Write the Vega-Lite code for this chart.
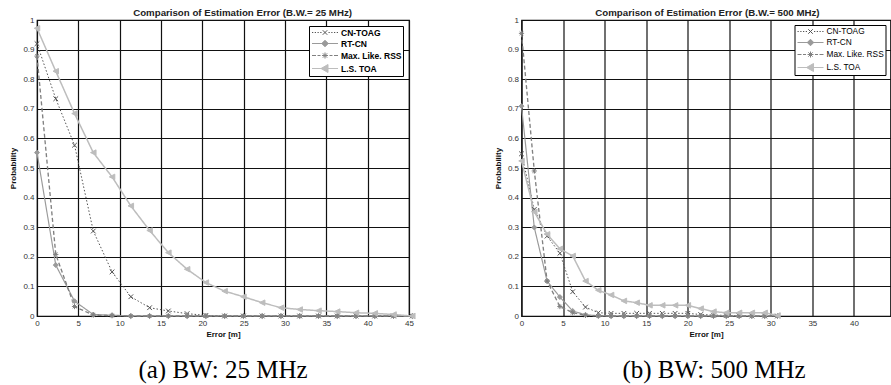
{
  "$schema": "https://vega.github.io/schema/vega-lite/v6.json",
  "background": "white",
  "padding": {"left": 9, "top": 7, "right": 0, "bottom": 0},
  "spacing": 67.5,
  "datasets": {
    "a": [
      {"series": "CN-TOAG", "x": 0, "y": 0.92}, {"series": "CN-TOAG", "x": 2.27, "y": 0.734}, {"series": "CN-TOAG", "x": 4.54, "y": 0.577}, {"series": "CN-TOAG", "x": 6.81, "y": 0.287}, {"series": "CN-TOAG", "x": 9.08, "y": 0.149}, {"series": "CN-TOAG", "x": 11.35, "y": 0.065}, {"series": "CN-TOAG", "x": 13.62, "y": 0.028}, {"series": "CN-TOAG", "x": 15.89, "y": 0.017}, {"series": "CN-TOAG", "x": 18.16, "y": 0.008}, {"series": "CN-TOAG", "x": 20.43, "y": 0.002}, {"series": "CN-TOAG", "x": 22.7, "y": 0}, {"series": "CN-TOAG", "x": 24.97, "y": 0}, {"series": "CN-TOAG", "x": 27.24, "y": 0}, {"series": "CN-TOAG", "x": 29.51, "y": 0}, {"series": "CN-TOAG", "x": 31.78, "y": 0}, {"series": "CN-TOAG", "x": 34.05, "y": 0}, {"series": "CN-TOAG", "x": 36.32, "y": 0}, {"series": "CN-TOAG", "x": 38.59, "y": 0}, {"series": "CN-TOAG", "x": 40.86, "y": 0}, {"series": "CN-TOAG", "x": 43.13, "y": 0}, {"series": "CN-TOAG", "x": 45.4, "y": 0},
      {"series": "RT-CN", "x": 0, "y": 0.552}, {"series": "RT-CN", "x": 2.27, "y": 0.172}, {"series": "RT-CN", "x": 4.54, "y": 0.05}, {"series": "RT-CN", "x": 6.81, "y": 0.005}, {"series": "RT-CN", "x": 9.08, "y": 0.003}, {"series": "RT-CN", "x": 11.35, "y": 0}, {"series": "RT-CN", "x": 13.62, "y": 0}, {"series": "RT-CN", "x": 15.89, "y": 0}, {"series": "RT-CN", "x": 18.16, "y": 0}, {"series": "RT-CN", "x": 20.43, "y": 0}, {"series": "RT-CN", "x": 22.7, "y": 0}, {"series": "RT-CN", "x": 24.97, "y": 0}, {"series": "RT-CN", "x": 27.24, "y": 0}, {"series": "RT-CN", "x": 29.51, "y": 0}, {"series": "RT-CN", "x": 31.78, "y": 0}, {"series": "RT-CN", "x": 34.05, "y": 0}, {"series": "RT-CN", "x": 36.32, "y": 0}, {"series": "RT-CN", "x": 38.59, "y": 0}, {"series": "RT-CN", "x": 40.86, "y": 0}, {"series": "RT-CN", "x": 43.13, "y": 0}, {"series": "RT-CN", "x": 45.4, "y": 0},
      {"series": "Max. Like. RSS", "x": 0, "y": 0.878}, {"series": "Max. Like. RSS", "x": 2.27, "y": 0.208}, {"series": "Max. Like. RSS", "x": 4.54, "y": 0.032}, {"series": "Max. Like. RSS", "x": 6.81, "y": 0.003}, {"series": "Max. Like. RSS", "x": 9.08, "y": 0.001}, {"series": "Max. Like. RSS", "x": 11.35, "y": 0}, {"series": "Max. Like. RSS", "x": 13.62, "y": 0}, {"series": "Max. Like. RSS", "x": 15.89, "y": 0}, {"series": "Max. Like. RSS", "x": 18.16, "y": 0}, {"series": "Max. Like. RSS", "x": 20.43, "y": 0}, {"series": "Max. Like. RSS", "x": 22.7, "y": 0}, {"series": "Max. Like. RSS", "x": 24.97, "y": 0}, {"series": "Max. Like. RSS", "x": 27.24, "y": 0}, {"series": "Max. Like. RSS", "x": 29.51, "y": 0}, {"series": "Max. Like. RSS", "x": 31.78, "y": 0}, {"series": "Max. Like. RSS", "x": 34.05, "y": 0}, {"series": "Max. Like. RSS", "x": 36.32, "y": 0}, {"series": "Max. Like. RSS", "x": 38.59, "y": 0}, {"series": "Max. Like. RSS", "x": 40.86, "y": 0}, {"series": "Max. Like. RSS", "x": 43.13, "y": 0}, {"series": "Max. Like. RSS", "x": 45.4, "y": 0},
      {"series": "L.S. TOA", "x": 0, "y": 0.972}, {"series": "L.S. TOA", "x": 2.27, "y": 0.827}, {"series": "L.S. TOA", "x": 4.54, "y": 0.684}, {"series": "L.S. TOA", "x": 6.81, "y": 0.552}, {"series": "L.S. TOA", "x": 9.08, "y": 0.47}, {"series": "L.S. TOA", "x": 11.35, "y": 0.372}, {"series": "L.S. TOA", "x": 13.62, "y": 0.289}, {"series": "L.S. TOA", "x": 15.89, "y": 0.214}, {"series": "L.S. TOA", "x": 18.16, "y": 0.158}, {"series": "L.S. TOA", "x": 20.43, "y": 0.113}, {"series": "L.S. TOA", "x": 22.7, "y": 0.084}, {"series": "L.S. TOA", "x": 24.97, "y": 0.065}, {"series": "L.S. TOA", "x": 27.24, "y": 0.045}, {"series": "L.S. TOA", "x": 29.51, "y": 0.028}, {"series": "L.S. TOA", "x": 31.78, "y": 0.022}, {"series": "L.S. TOA", "x": 34.05, "y": 0.018}, {"series": "L.S. TOA", "x": 36.32, "y": 0.015}, {"series": "L.S. TOA", "x": 38.59, "y": 0.011}, {"series": "L.S. TOA", "x": 40.86, "y": 0.009}, {"series": "L.S. TOA", "x": 43.13, "y": 0.005}, {"series": "L.S. TOA", "x": 45.4, "y": 0}
    ],
    "b": [
      {"series": "CN-TOAG", "x": 0, "y": 0.548}, {"series": "CN-TOAG", "x": 1.54, "y": 0.36}, {"series": "CN-TOAG", "x": 3.08, "y": 0.27}, {"series": "CN-TOAG", "x": 4.62, "y": 0.212}, {"series": "CN-TOAG", "x": 6.16, "y": 0.082}, {"series": "CN-TOAG", "x": 7.7, "y": 0.03}, {"series": "CN-TOAG", "x": 9.24, "y": 0.011}, {"series": "CN-TOAG", "x": 10.78, "y": 0.009}, {"series": "CN-TOAG", "x": 12.32, "y": 0.009}, {"series": "CN-TOAG", "x": 13.86, "y": 0.009}, {"series": "CN-TOAG", "x": 15.4, "y": 0.009}, {"series": "CN-TOAG", "x": 16.94, "y": 0.009}, {"series": "CN-TOAG", "x": 18.48, "y": 0.009}, {"series": "CN-TOAG", "x": 20.02, "y": 0.009}, {"series": "CN-TOAG", "x": 21.56, "y": 0.005}, {"series": "CN-TOAG", "x": 23.1, "y": 0.003}, {"series": "CN-TOAG", "x": 24.64, "y": 0.002}, {"series": "CN-TOAG", "x": 26.18, "y": 0.001}, {"series": "CN-TOAG", "x": 27.72, "y": 0}, {"series": "CN-TOAG", "x": 29.26, "y": 0}, {"series": "CN-TOAG", "x": 30.8, "y": 0},
      {"series": "RT-CN", "x": 0, "y": 0.709}, {"series": "RT-CN", "x": 1.54, "y": 0.299}, {"series": "RT-CN", "x": 3.08, "y": 0.118}, {"series": "RT-CN", "x": 4.62, "y": 0.064}, {"series": "RT-CN", "x": 6.16, "y": 0.017}, {"series": "RT-CN", "x": 7.7, "y": 0.004}, {"series": "RT-CN", "x": 9.24, "y": 0.001}, {"series": "RT-CN", "x": 10.78, "y": 0}, {"series": "RT-CN", "x": 12.32, "y": 0}, {"series": "RT-CN", "x": 13.86, "y": 0}, {"series": "RT-CN", "x": 15.4, "y": 0}, {"series": "RT-CN", "x": 16.94, "y": 0}, {"series": "RT-CN", "x": 18.48, "y": 0}, {"series": "RT-CN", "x": 20.02, "y": 0}, {"series": "RT-CN", "x": 21.56, "y": 0}, {"series": "RT-CN", "x": 23.1, "y": 0}, {"series": "RT-CN", "x": 24.64, "y": 0}, {"series": "RT-CN", "x": 26.18, "y": 0}, {"series": "RT-CN", "x": 27.72, "y": 0}, {"series": "RT-CN", "x": 29.26, "y": 0}, {"series": "RT-CN", "x": 30.8, "y": 0},
      {"series": "Max. Like. RSS", "x": 0, "y": 0.955}, {"series": "Max. Like. RSS", "x": 1.54, "y": 0.49}, {"series": "Max. Like. RSS", "x": 3.08, "y": 0.118}, {"series": "Max. Like. RSS", "x": 4.62, "y": 0.032}, {"series": "Max. Like. RSS", "x": 6.16, "y": 0.011}, {"series": "Max. Like. RSS", "x": 7.7, "y": 0.002}, {"series": "Max. Like. RSS", "x": 9.24, "y": 0}, {"series": "Max. Like. RSS", "x": 10.78, "y": 0}, {"series": "Max. Like. RSS", "x": 12.32, "y": 0}, {"series": "Max. Like. RSS", "x": 13.86, "y": 0}, {"series": "Max. Like. RSS", "x": 15.4, "y": 0}, {"series": "Max. Like. RSS", "x": 16.94, "y": 0}, {"series": "Max. Like. RSS", "x": 18.48, "y": 0}, {"series": "Max. Like. RSS", "x": 20.02, "y": 0}, {"series": "Max. Like. RSS", "x": 21.56, "y": 0}, {"series": "Max. Like. RSS", "x": 23.1, "y": 0}, {"series": "Max. Like. RSS", "x": 24.64, "y": 0}, {"series": "Max. Like. RSS", "x": 26.18, "y": 0}, {"series": "Max. Like. RSS", "x": 27.72, "y": 0}, {"series": "Max. Like. RSS", "x": 29.26, "y": 0}, {"series": "Max. Like. RSS", "x": 30.8, "y": 0},
      {"series": "L.S. TOA", "x": 0, "y": 0.524}, {"series": "L.S. TOA", "x": 1.54, "y": 0.352}, {"series": "L.S. TOA", "x": 3.08, "y": 0.276}, {"series": "L.S. TOA", "x": 4.62, "y": 0.227}, {"series": "L.S. TOA", "x": 6.16, "y": 0.203}, {"series": "L.S. TOA", "x": 7.7, "y": 0.118}, {"series": "L.S. TOA", "x": 9.24, "y": 0.087}, {"series": "L.S. TOA", "x": 10.78, "y": 0.071}, {"series": "L.S. TOA", "x": 12.32, "y": 0.051}, {"series": "L.S. TOA", "x": 13.86, "y": 0.045}, {"series": "L.S. TOA", "x": 15.4, "y": 0.036}, {"series": "L.S. TOA", "x": 16.94, "y": 0.036}, {"series": "L.S. TOA", "x": 18.48, "y": 0.036}, {"series": "L.S. TOA", "x": 20.02, "y": 0.036}, {"series": "L.S. TOA", "x": 21.56, "y": 0.025}, {"series": "L.S. TOA", "x": 23.1, "y": 0.015}, {"series": "L.S. TOA", "x": 24.64, "y": 0.011}, {"series": "L.S. TOA", "x": 26.18, "y": 0.011}, {"series": "L.S. TOA", "x": 27.72, "y": 0.011}, {"series": "L.S. TOA", "x": 29.26, "y": 0.011}, {"series": "L.S. TOA", "x": 30.8, "y": 0.002}
    ]
  },
  "hconcat": [
    {
      "title": {"text": "Comparison of Estimation Error  (B.W.= 25 MHz)", "orient": "top", "anchor": "middle", "frame": "bounds", "dx": 25, "offset": -2, "font": "Liberation Sans", "fontSize": 9.7, "fontWeight": "bold", "color": "#222222"},
      "vconcat": [
        {
          "width": 372,
          "height": 296,
          "data": {"name": "a"},
          "title": {"text": "(a) BW: 25 MHz", "orient": "bottom", "anchor": "middle", "frame": "group", "offset": 20, "font": "Liberation Serif", "fontSize": 25, "fontWeight": "normal", "color": "black"},
          "encoding": {
            "x": {"field": "x", "type": "quantitative", "scale": {"domain": [0, 45], "nice": false, "zero": false}, "axis": {"values": [0, 5, 10, 15, 20, 25, 30, 35, 40, 45], "title": "Error [m]"}},
            "y": {"field": "y", "type": "quantitative", "scale": {"domain": [0, 1], "nice": false}, "axis": {"values": [0, 0.1, 0.2, 0.3, 0.4, 0.5, 0.6, 0.7, 0.8, 0.9, 1], "format": "~g", "title": "Probability"}}
          },
          "layer": [
            {
              "mark": {"type": "line", "clip": false},
              "encoding": {
                "stroke": {"field": "series", "type": "nominal", "scale": {"domain": ["CN-TOAG", "RT-CN", "Max. Like. RSS", "L.S. TOA"], "range": ["#555555", "#9a9a9a", "#808080", "#bdbdbd"]}, "legend": null},
                "strokeDash": {"field": "series", "type": "nominal", "scale": {"domain": ["CN-TOAG", "RT-CN", "Max. Like. RSS", "L.S. TOA"], "range": [[1.5, 2], [1, 0], [4, 2.5], [1, 0]]}, "legend": null},
                "strokeWidth": {"field": "series", "type": "nominal", "scale": {"domain": ["CN-TOAG", "RT-CN", "Max. Like. RSS", "L.S. TOA"], "range": [1, 1.5, 1, 2]}, "legend": null}
              }
            },
            {
              "mark": {"type": "point", "opacity": 1, "strokeWidth": 1, "clip": false},
              "encoding": {
                "shape": {"field": "series", "type": "nominal", "scale": {"domain": ["CN-TOAG", "RT-CN", "Max. Like. RSS", "L.S. TOA"], "range": ["M-1,-1L1,1M-1,1L1,-1", "M0,-1L1,0L0,1L-1,0Z", "M-1,0H1M0,-1V1M-0.7,-0.7L0.7,0.7M-0.7,0.7L0.7,-0.7", "M-1,0L1,-1L1,1Z"]}, "legend": null},
                "size": {"field": "series", "type": "nominal", "scale": {"domain": ["CN-TOAG", "RT-CN", "Max. Like. RSS", "L.S. TOA"], "range": [22, 30, 22, 40]}, "legend": null},
                "stroke": {"field": "series", "type": "nominal", "scale": {"domain": ["CN-TOAG", "RT-CN", "Max. Like. RSS", "L.S. TOA"], "range": ["#555555", "#9a9a9a", "#808080", "#bdbdbd"]}, "legend": null},
                "fill": {"field": "series", "type": "nominal", "scale": {"domain": ["CN-TOAG", "RT-CN", "Max. Like. RSS", "L.S. TOA"], "range": ["transparent", "#9a9a9a", "transparent", "#bdbdbd"]}, "legend": null}
              }
            },
            {
              "mark": {"type": "point", "opacity": 0, "size": 100, "strokeWidth": 1},
              "encoding": {
                "shape": {"field": "series", "type": "nominal", "scale": {"domain": ["CN-TOAG", "RT-CN", "Max. Like. RSS", "L.S. TOA"], "range": ["M-2.6,0h0.25M-2.05,0h0.25M-1.5,0h0.25M-0.95,0h0.25M0.7,0h0.25M1.25,0h0.25M1.8,0h0.25M2.35,0h0.25M-0.45,-0.45L0.45,0.45M-0.45,0.45L0.45,-0.45", "M-2.6,0H2.6M0,-0.65L0.65,0L0,0.65L-0.65,0Z", "M-2.6,0h0.8M-1.5,0h0.6M0.9,0h0.6M1.8,0h0.8M-0.6,0H0.6M0,-0.6V0.6M-0.43,-0.43L0.43,0.43M-0.43,0.43L0.43,-0.43", "M-2.6,0H2.6M-0.8,0L0.6,-0.8L0.6,0.8Z"]}, "legend": {"title": null, "labelFontWeight": "bold", "labelFontSize": 8.5, "offset": 6}},
                "stroke": {"field": "series", "type": "nominal", "scale": {"domain": ["CN-TOAG", "RT-CN", "Max. Like. RSS", "L.S. TOA"], "range": ["#555555", "#9a9a9a", "#808080", "#bdbdbd"]}, "legend": {"title": null, "labelFontWeight": "bold", "labelFontSize": 8.5, "offset": 6}},
                "fill": {"field": "series", "type": "nominal", "scale": {"domain": ["CN-TOAG", "RT-CN", "Max. Like. RSS", "L.S. TOA"], "range": ["transparent", "#9a9a9a", "transparent", "#bdbdbd"]}, "legend": {"title": null, "labelFontWeight": "bold", "labelFontSize": 8.5, "offset": 6}}
              }
            }
          ],
          "resolve": {"scale": {"shape": "independent", "size": "independent", "stroke": "independent", "fill": "independent", "strokeDash": "independent", "strokeWidth": "independent"}}
        }
      ]
    },
    {
      "title": {"text": "Comparison of Estimation Error  (B.W.= 500 MHz)", "orient": "top", "anchor": "middle", "frame": "bounds", "dx": 15, "offset": -2, "font": "Liberation Sans", "fontSize": 9.7, "fontWeight": "bold", "color": "#222222"},
      "vconcat": [
        {
          "width": 369,
          "height": 296,
          "data": {"name": "b"},
          "title": {"text": "(b) BW: 500 MHz", "orient": "bottom", "anchor": "middle", "frame": "group", "dx": 8, "offset": 20, "font": "Liberation Serif", "fontSize": 25, "fontWeight": "normal", "color": "black"},
          "encoding": {
            "x": {"field": "x", "type": "quantitative", "scale": {"domain": [0, 44.4], "nice": false, "zero": false}, "axis": {"values": [0, 5, 10, 15, 20, 25, 30, 35, 40], "title": "Error [m]"}},
            "y": {"field": "y", "type": "quantitative", "scale": {"domain": [0, 1], "nice": false}, "axis": {"values": [0, 0.1, 0.2, 0.3, 0.4, 0.5, 0.6, 0.7, 0.8, 0.9, 1], "format": "~g", "title": "Probability"}}
          },
          "layer": [
            {
              "mark": {"type": "line", "clip": false},
              "encoding": {
                "stroke": {"field": "series", "type": "nominal", "scale": {"domain": ["CN-TOAG", "RT-CN", "Max. Like. RSS", "L.S. TOA"], "range": ["#555555", "#9a9a9a", "#808080", "#bdbdbd"]}, "legend": null},
                "strokeDash": {"field": "series", "type": "nominal", "scale": {"domain": ["CN-TOAG", "RT-CN", "Max. Like. RSS", "L.S. TOA"], "range": [[1.5, 2], [1, 0], [4, 2.5], [1, 0]]}, "legend": null},
                "strokeWidth": {"field": "series", "type": "nominal", "scale": {"domain": ["CN-TOAG", "RT-CN", "Max. Like. RSS", "L.S. TOA"], "range": [1, 1.5, 1, 2]}, "legend": null}
              }
            },
            {
              "mark": {"type": "point", "opacity": 1, "strokeWidth": 1, "clip": false},
              "encoding": {
                "shape": {"field": "series", "type": "nominal", "scale": {"domain": ["CN-TOAG", "RT-CN", "Max. Like. RSS", "L.S. TOA"], "range": ["M-1,-1L1,1M-1,1L1,-1", "M0,-1L1,0L0,1L-1,0Z", "M-1,0H1M0,-1V1M-0.7,-0.7L0.7,0.7M-0.7,0.7L0.7,-0.7", "M-1,0L1,-1L1,1Z"]}, "legend": null},
                "size": {"field": "series", "type": "nominal", "scale": {"domain": ["CN-TOAG", "RT-CN", "Max. Like. RSS", "L.S. TOA"], "range": [22, 30, 22, 40]}, "legend": null},
                "stroke": {"field": "series", "type": "nominal", "scale": {"domain": ["CN-TOAG", "RT-CN", "Max. Like. RSS", "L.S. TOA"], "range": ["#555555", "#9a9a9a", "#808080", "#bdbdbd"]}, "legend": null},
                "fill": {"field": "series", "type": "nominal", "scale": {"domain": ["CN-TOAG", "RT-CN", "Max. Like. RSS", "L.S. TOA"], "range": ["transparent", "#9a9a9a", "transparent", "#bdbdbd"]}, "legend": null}
              }
            },
            {
              "mark": {"type": "point", "opacity": 0, "size": 100, "strokeWidth": 1},
              "encoding": {
                "shape": {"field": "series", "type": "nominal", "scale": {"domain": ["CN-TOAG", "RT-CN", "Max. Like. RSS", "L.S. TOA"], "range": ["M-2.6,0h0.25M-2.05,0h0.25M-1.5,0h0.25M-0.95,0h0.25M0.7,0h0.25M1.25,0h0.25M1.8,0h0.25M2.35,0h0.25M-0.45,-0.45L0.45,0.45M-0.45,0.45L0.45,-0.45", "M-2.6,0H2.6M0,-0.65L0.65,0L0,0.65L-0.65,0Z", "M-2.6,0h0.8M-1.5,0h0.6M0.9,0h0.6M1.8,0h0.8M-0.6,0H0.6M0,-0.6V0.6M-0.43,-0.43L0.43,0.43M-0.43,0.43L0.43,-0.43", "M-2.6,0H2.6M-0.8,0L0.6,-0.8L0.6,0.8Z"]}, "legend": {"title": null, "labelFontWeight": "normal", "labelFontSize": 8.3, "offset": 5}},
                "stroke": {"field": "series", "type": "nominal", "scale": {"domain": ["CN-TOAG", "RT-CN", "Max. Like. RSS", "L.S. TOA"], "range": ["#555555", "#9a9a9a", "#808080", "#bdbdbd"]}, "legend": {"title": null, "labelFontWeight": "normal", "labelFontSize": 8.3, "offset": 5}},
                "fill": {"field": "series", "type": "nominal", "scale": {"domain": ["CN-TOAG", "RT-CN", "Max. Like. RSS", "L.S. TOA"], "range": ["transparent", "#9a9a9a", "transparent", "#bdbdbd"]}, "legend": {"title": null, "labelFontWeight": "normal", "labelFontSize": 8.3, "offset": 5}}
              }
            }
          ],
          "resolve": {"scale": {"shape": "independent", "size": "independent", "stroke": "independent", "fill": "independent", "strokeDash": "independent", "strokeWidth": "independent"}}
        }
      ]
    }
  ],
  "config": {
    "font": "Liberation Sans",
    "view": {"stroke": "black", "strokeWidth": 1.2},
    "axis": {"grid": true, "gridColor": "#111111", "gridWidth": 1.2, "gridOpacity": 1, "ticks": false, "domain": false, "labelFont": "Liberation Sans", "labelFontSize": 8, "labelColor": "#333333", "labelFlush": false, "labelOverlap": false, "labelPadding": 3, "titleFont": "Liberation Sans", "titleFontSize": 8, "titleFontWeight": "bold", "titleColor": "#111111"},
    "axisX": {"titlePadding": 3},
    "axisY": {"titlePadding": 5},
    "legend": {"orient": "top-right", "padding": 1, "strokeColor": "black", "fillColor": "white", "cornerRadius": 0, "symbolSize": 100, "symbolStrokeWidth": 1, "symbolOpacity": 1, "labelFont": "Liberation Sans", "labelColor": "black", "rowPadding": 1, "symbolOffset": 9.5, "labelOffset": 10.5}
  }
}
